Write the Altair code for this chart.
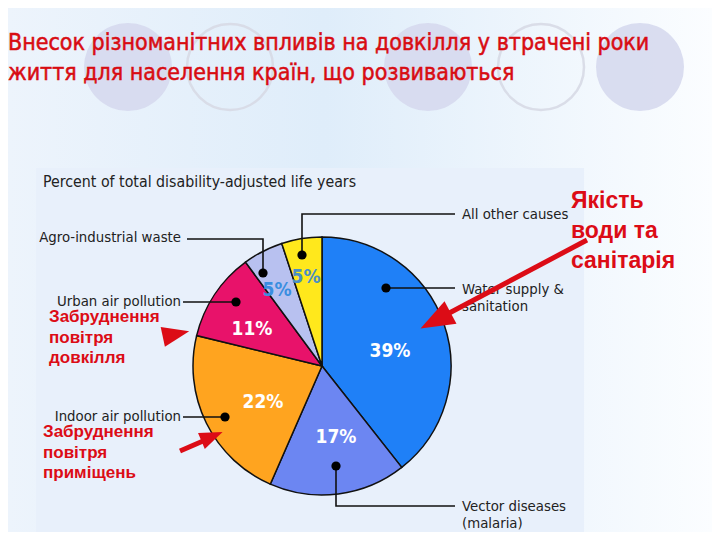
import altair as alt
import pandas as pd

# ---------------- data ----------------
causes = ["Water supply & sanitation", "Vector diseases (malaria)", "Indoor air pollution",
          "Urban air pollution", "Agro-industrial waste", "All other causes"]
shares = [39, 17, 22, 11, 5, 5]
pct_labels = ["39%", "17%", "22%", "11%", "5%", "5%"]
slice_colors = ["#1f80f7", "#6c86f2", "#ffa41f", "#e8126a", "#b8c1f0", "#ffe81c"]
pct_colors = ["white", "white", "white", "white", "#3a8ee0", "#4b8fc4"]

title_lines = ["Внесок різноманітних впливів на довкілля у втрачені роки",
               "життя для населення країн, що розвиваються"]
panel_title = "Percent of total disability-adjusted life years"
cause_label_lines = [["Water supply &", "sanitation"], ["Vector diseases", "(malaria)"],
                     ["Indoor air pollution"], ["Urban air pollution"],
                     ["Agro-industrial waste"], ["All other causes"]]
note_water = ["Якість", "води та", "санітарія"]
note_urban = ["Забруднення", "повітря", "довкілля"]
note_indoor = ["Забруднення", "повітря", "приміщень"]

# ---------------- layout (reference pixel coordinates) ----------------
OFF = 8
W, H = 720 - 2 * OFF, 540 - 2 * OFF
pie_cx, pie_cy, pie_r = 322, 366, 129
pct_pos = [(390, 351), (336, 437), (263, 402), (252, 329), (277, 290), (306, 277)]
dot_pos = [(386, 288), (336, 466), (225, 417), (236, 302), (263, 273), (302, 255)]
leaders = [[(386, 288), (455, 288)],
           [(336, 466), (336, 506), (455, 506)],
           [(225, 417), (183, 417)],
           [(236, 302), (183, 302)],
           [(263, 273), (263, 239), (187, 239)],
           [(302, 255), (302, 214), (455, 214)]]
label_pos = [(462, 294, "left"), (462, 511, "left"), (181, 421, "right"),
             (181, 306, "right"), (181, 242, "right"), (462, 219, "left")]
line_gap = 16.5

FONT_N = "DejaVu Sans Condensed, Liberation Sans Narrow, sans-serif"
FONT_B = "Liberation Sans, Arial, sans-serif"
RED = "#dc0c16"

xs = alt.Scale(domain=[OFF, W + OFF], range=[0, W], nice=False, zero=False)
ys = alt.Scale(domain=[OFF, H + OFF], range=[0, H], nice=False, zero=False)


def X(f):
    return alt.X(f, type="quantitative", scale=xs, axis=None)


def Y(f):
    return alt.Y(f, type="quantitative", scale=ys, axis=None)


# background gradient
bg = alt.Chart(pd.DataFrame({"x": [OFF], "x2": [W + OFF], "y": [OFF], "y2": [H + OFF]})).mark_rect(
    fill=alt.Gradient(gradient="linear", x1=0, x2=1, y1=0, y2=0,
                      stops=[alt.GradientStop(color="#edf4fc", offset=0),
                             alt.GradientStop(color="#dfedfa", offset=0.45),
                             alt.GradientStop(color="#fbfdff", offset=1)])
).encode(x=X("x"), x2="x2", y=Y("y"), y2="y2")

# decorative circles
circ_df = pd.DataFrame({"x": [128, 230, 428, 541, 640], "y": [67, 67, 67, 67, 67],
                        "kind": ["f", "o", "f", "o", "f"]})
circ_fill = alt.Chart(circ_df[circ_df.kind == "f"]).mark_point(
    shape="circle", filled=True, size=88 * 88, color="#d6d9ee", opacity=0.9
).encode(x=X("x"), y=Y("y"))
circ_out = alt.Chart(circ_df[circ_df.kind == "o"]).mark_point(
    shape="circle", filled=False, size=86 * 86, color="#d8dbe6", strokeWidth=2.5, opacity=0.9
).encode(x=X("x"), y=Y("y"))

# title
title_df = pd.DataFrame({"x": [8, 8], "y": [50, 80], "t": title_lines})
title = alt.Chart(title_df).mark_text(
    font=FONT_N, fontSize=23, fontWeight="normal", color="#d80c12", align="left",
    baseline="alphabetic", stroke="#d80c12", strokeWidth=0.5
).encode(x=X("x"), y=Y("y"), text="t:N")

# panel
panel = alt.Chart(pd.DataFrame({"x": [36], "x2": [584], "y": [168], "y2": [H + OFF]})).mark_rect(
    color="#e8f0fb").encode(x=X("x"), x2="x2", y=Y("y"), y2="y2")
ptitle = alt.Chart(pd.DataFrame({"x": [43], "y": [187], "t": [panel_title]})).mark_text(
    font=FONT_N, fontSize=15.8, color="#222222", align="left", baseline="alphabetic"
).encode(x=X("x"), y=Y("y"), text="t:N")

# pie
pie_df = pd.DataFrame({"cause": causes, "share": shares, "idx": range(len(causes))})
pie = alt.Chart(pie_df).mark_arc(radius=pie_r, stroke="#111111", strokeWidth=1.5).encode(
    theta=alt.Theta("share:Q", stack=True),
    order=alt.Order("idx:Q"),
    color=alt.Color("cause:N", scale=alt.Scale(domain=causes, range=slice_colors), legend=None),
    x=alt.value(pie_cx - OFF), y=alt.value(pie_cy - OFF),
)

# percent labels
pct_df = pd.DataFrame({"x": [p[0] for p in pct_pos], "y": [p[1] for p in pct_pos],
                       "t": pct_labels, "c": pct_colors})
pct = alt.Chart(pct_df).mark_text(font=FONT_N, fontSize=19, fontWeight="bold",
                                  align="center", baseline="middle").encode(
    x=X("x"), y=Y("y"), text="t:N", color=alt.Color("c:N", scale=None))

# leader lines
rows = []
for i, pts in enumerate(leaders):
    for j, (px, py) in enumerate(pts):
        rows.append({"id": i, "o": j, "x": px, "y": py})
lead = alt.Chart(pd.DataFrame(rows)).mark_line(color="#111111", strokeWidth=1.6).encode(
    x=X("x"), y=Y("y"), detail="id:N", order="o:Q")
dots = alt.Chart(pd.DataFrame({"x": [d[0] for d in dot_pos], "y": [d[1] for d in dot_pos]})).mark_point(
    shape="circle", filled=True, size=85, color="#000000", opacity=1).encode(x=X("x"), y=Y("y"))

# cause labels
lrows = []
for lines, (lx, ly, al) in zip(cause_label_lines, label_pos):
    for k, ln in enumerate(lines):
        lrows.append({"x": lx, "y": ly + k * line_gap, "t": ln, "a": al})
ldf = pd.DataFrame(lrows)
lab_left = alt.Chart(ldf[ldf.a == "left"]).mark_text(
    font=FONT_N, fontSize=14.8, color="#222222", align="left", baseline="alphabetic"
).encode(x=X("x"), y=Y("y"), text="t:N")
lab_right = alt.Chart(ldf[ldf.a == "right"]).mark_text(
    font=FONT_N, fontSize=14.8, color="#222222", align="right", baseline="alphabetic"
).encode(x=X("x"), y=Y("y"), text="t:N")

# red notes
nrows = []
for k, ln in enumerate(note_water):
    nrows.append({"x": 571, "y": 208 + k * 30, "t": ln})
nbig = alt.Chart(pd.DataFrame(nrows)).mark_text(
    font=FONT_B, fontSize=23, fontWeight="bold", color=RED, align="left", baseline="alphabetic"
).encode(x=X("x"), y=Y("y"), text="t:N")
srows = []
for k, ln in enumerate(note_urban):
    srows.append({"x": 49, "y": 322 + k * 20.5, "t": ln})
for k, ln in enumerate(note_indoor):
    srows.append({"x": 43, "y": 437 + k * 20.5, "t": ln})
nsmall = alt.Chart(pd.DataFrame(srows)).mark_text(
    font=FONT_B, fontSize=17, fontWeight="bold", color=RED, align="left", baseline="alphabetic"
).encode(x=X("x"), y=Y("y"), text="t:N")

# arrows
shaft_rows = [{"id": 0, "o": 0, "x": 587, "y": 240}, {"id": 0, "o": 1, "x": 438, "y": 319},
              {"id": 1, "o": 0, "x": 180, "y": 451}, {"id": 1, "o": 1, "x": 210, "y": 438}]
shafts = alt.Chart(pd.DataFrame(shaft_rows)).mark_line(color=RED, strokeWidth=5).encode(
    x=X("x"), y=Y("y"), detail="id:N", order="o:Q")
head_df = pd.DataFrame({"x": [435.5, 176, 212], "y": [320.5, 334, 436.5],
                        "ang": [242, 78, 67], "sz": [34 * 34, 27 * 27, 23 * 23]})
heads = alt.Chart(head_df).mark_point(
    shape="M-0.75,1L0.75,1L0,-1Z", filled=True, color=RED, opacity=1
).encode(x=X("x"), y=Y("y"), angle=alt.Angle("ang:Q", scale=None),
         size=alt.Size("sz:Q", scale=None, legend=None))

chart = alt.layer(bg, circ_fill, circ_out, title, panel, ptitle, pie, lead, dots, pct,
                  lab_left, lab_right, shafts, heads, nbig, nsmall).properties(
    width=W, height=H, padding=0, autosize=alt.AutoSizeParams(type="none")
).configure_view(stroke=None).configure(background="#ffffff")

chart.save("out.html", embed_options={"renderer": "svg", "actions": False})
